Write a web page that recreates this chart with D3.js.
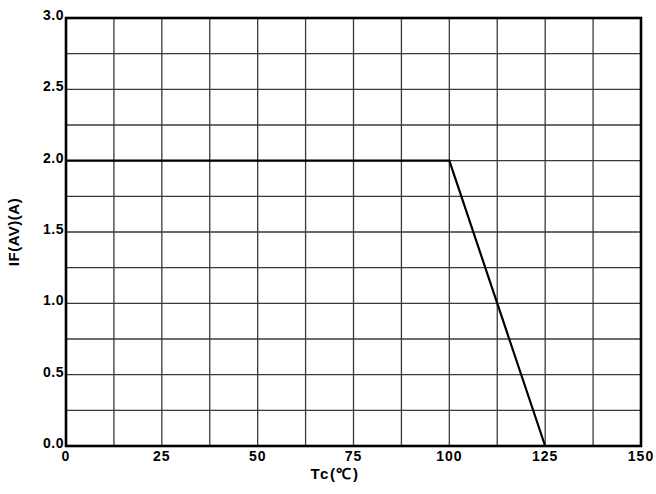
<!DOCTYPE html>
<html>
<head>
<meta charset="utf-8">
<script src="https://cdn.jsdelivr.net/npm/d3@7"></script>
<style>
  body { margin: 0; background: #fff; }
  svg text { font-family: "Liberation Sans", Arial, sans-serif; font-weight: bold; fill: #000; }
</style>
</head>
<body>
<svg id="chart" width="656" height="494"></svg>
<script>
const tcValues = [0, 100, 125];
const ifValues = [2.0, 2.0, 0.0];
const xTicks = [0, 25, 50, 75, 100, 125, 150];
const yTicks = [0.0, 0.5, 1.0, 1.5, 2.0, 2.5, 3.0];
const xGrid = d3.range(0, 151, 12.5);
const yGrid = d3.range(0, 3.01, 0.25);

const margin = {left: 66, right: 15, top: 18, bottom: 48};
const width = 656 - margin.left - margin.right;
const height = 494 - margin.top - margin.bottom;

const svg = d3.select('#chart');
const g = svg.append('g').attr('transform', `translate(${margin.left},${margin.top})`);

const x = d3.scaleLinear().domain([0, 150]).range([0, width]);
const y = d3.scaleLinear().domain([0, 3]).range([height, 0]);

// grid
g.selectAll('.vgrid').data(xGrid).enter().append('line')
    .attr('x1', d => x(d)).attr('x2', d => x(d))
    .attr('y1', 0).attr('y2', height)
    .attr('stroke', '#3a3a3a').attr('stroke-width', 1.3);

g.selectAll('.hgrid').data(yGrid).enter().append('line')
    .attr('x1', 0).attr('x2', width)
    .attr('y1', d => y(d)).attr('y2', d => y(d))
    .attr('stroke', '#3a3a3a').attr('stroke-width', 1.3);

// frame
g.append('rect')
    .attr('width', width).attr('height', height)
    .attr('fill', 'none').attr('stroke', '#000').attr('stroke-width', 2.6);

// tick labels
g.selectAll('.xtick').data(xTicks).enter().append('text')
    .attr('x', d => x(d)).attr('y', height + 15)
    .attr('text-anchor', 'middle')
    .style('font-size', '14px')
    .style('letter-spacing', '1px')
    .text(d => d);

g.selectAll('.ytick').data(yTicks).enter().append('text')
    .attr('x', -2).attr('y', d => y(d) + 2)
    .attr('text-anchor', 'end')
    .style('font-size', '14px')
    .style('letter-spacing', '0.5px')
    .text(d => d.toFixed(1));

// axis titles
g.append('text')
    .attr('x', 335 - margin.left).attr('y', height + 33)
    .attr('text-anchor', 'middle')
    .style('font-size', '15px')
    .style('letter-spacing', '1.5px')
    .text('Tc(℃)');

g.append('text')
    .attr('transform', `translate(${-47},${height / 2}) rotate(-90)`)
    .attr('text-anchor', 'middle')
    .style('font-size', '15px')
    .style('letter-spacing', '0.5px')
    .text('IF(AV)(A)');

// curve
const line = d3.line().x((d, i) => x(tcValues[i])).y(d => y(d));
g.append('path')
    .attr('d', line(ifValues))
    .attr('fill', 'none').attr('stroke', '#000').attr('stroke-width', 2.2);
</script>
</body>
</html>
